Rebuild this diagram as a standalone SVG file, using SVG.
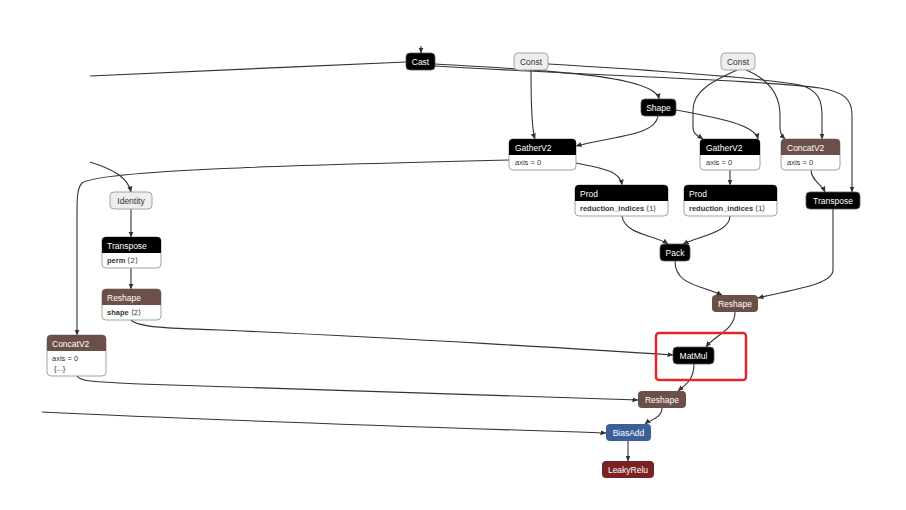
<svg xmlns="http://www.w3.org/2000/svg" width="906" height="510" viewBox="0 0 906 510">
<defs>
<marker id="ah" markerWidth="6" markerHeight="6" refX="5.5" refY="3" orient="auto" markerUnits="userSpaceOnUse">
<path d="M0,0.5 L6,3 L0,5.5 z" fill="#333"/>
</marker>
<style>
.e{fill:none;stroke:#333;stroke-width:1.1;marker-end:url(#ah)}
.n{fill:none;stroke:#333;stroke-width:1.1}
.blk{fill:#000;stroke:#555;stroke-width:0.8}
.cst{fill:#eee;stroke:#999;stroke-width:0.9}
.brn{fill:#6b4f48}
.box{fill:#fff;stroke:#999;stroke-width:0.9}
text{font-family:"Liberation Sans",Arial,sans-serif;font-size:8.5px}
.w{fill:#fff}
.d{fill:#333}
.c{text-anchor:middle}
.a{font-size:7.5px;fill:#333}
.b{font-weight:bold}
</style>
</defs>
<rect width="906" height="510" fill="#fff"/>
<g id="edges">
<path class="n" d="M90,76 C200,72 300,66 406,62"/>
<path class="e" d="M421,46 L421,53"/>
<path class="e" d="M435,64 C540,70 655,75 659,99"/>
<path class="e" d="M435,66 C600,76 760,80 820,88 C845,92 852,100 852,115 L852,192"/>
<path class="e" d="M548,64 C650,70 760,78 800,85 C818,90 822,100 822,115 L822,139"/>
<path class="e" d="M531,70 C531,110 532,130 535,139"/>
<path class="e" d="M737,70 C715,80 693,90 693,110 L693,128 C693,135 700,137 703,139"/>
<path class="e" d="M746,70 C770,80 780,95 780,115 L780,128 C780,134 783,137 785,139"/>
<path class="e" d="M658,116 C655,135 620,135 576,146"/>
<path class="e" d="M676,110 C720,118 755,125 758,139"/>
<path class="e" d="M576,163 C600,168 620,170 622,185"/>
<path class="e" d="M509,160 C300,165 100,170 82,183 C77,188 77,200 77,215 L77,335"/>
<path class="e" d="M730,170 L730,185"/>
<path class="e" d="M622,216 C625,235 655,235 668,244"/>
<path class="e" d="M730,216 C730,232 700,236 683,244"/>
<path class="e" d="M675,261 C675,285 700,285 722,295"/>
<path class="e" d="M811,170 C811,180 822,185 825,192"/>
<path class="e" d="M833,209 L833,270 C833,285 790,290 758,298"/>
<path class="e" d="M735,312 C735,330 715,335 706,347"/>
<path class="e" d="M131,320 C138,327 160,328 220,330 C400,338 600,350 673,355"/>
<path class="e" d="M694,364 C694,380 685,385 678,391"/>
<path class="e" d="M77,376 C80,382 100,382 140,384 C350,392 550,398 638,400"/>
<path class="e" d="M662,408 C662,418 650,420 645,424"/>
<path class="e" d="M42,412 C200,420 450,428 606,433"/>
<path class="e" d="M628,441 L628,461"/>
<path class="e" d="M90,162 C115,170 128,178 131,192"/>
<path class="e" d="M131,209 L131,237"/>
<path class="e" d="M131,268 L131,289"/>
</g>
<g id="cast"><rect class="blk" x="406" y="53" width="29" height="17" rx="4"/><text class="w c" x="420.5" y="65">Cast</text></g>
<g id="const1"><rect class="cst" x="514" y="53" width="34" height="17" rx="4"/><text class="d c" x="531" y="65">Const</text></g>
<g id="const2"><rect class="cst" x="721" y="53" width="34" height="17" rx="4"/><text class="d c" x="738" y="65">Const</text></g>
<g id="shape"><rect class="blk" x="641" y="99" width="35" height="17" rx="4"/><text class="w c" x="658.5" y="111">Shape</text></g>
<g id="gather1"><rect class="box" x="509" y="139" width="67" height="31" rx="4"/><path d="M509,155 V143 Q509,139 513,139 H572 Q576,139 576,143 V155 Z" fill="#000"/><text class="w" x="515" y="151">GatherV2</text><text class="a" x="515" y="165">axis = 0</text></g>
<g id="gather2"><rect class="box" x="700" y="139" width="60" height="31" rx="4"/><path d="M700,155 V143 Q700,139 704,139 H756 Q760,139 760,143 V155 Z" fill="#000"/><text class="w" x="706" y="151">GatherV2</text><text class="a" x="706" y="165">axis = 0</text></g>
<g id="concat_r"><rect class="box" x="781" y="139" width="59" height="31" rx="4"/><path d="M781,155 V143 Q781,139 785,139 H836 Q840,139 840,143 V155 Z" class="brn"/><text class="w" x="787" y="151">ConcatV2</text><text class="a" x="787" y="165">axis = 0</text></g>
<g id="prod1"><rect class="box" x="575" y="185" width="93" height="31" rx="4"/><path d="M575,201 V189 Q575,185 579,185 H664 Q668,185 668,189 V201 Z" fill="#000"/><text class="w" x="580" y="197">Prod</text><text class="a" x="580" y="211"><tspan class="b">reduction_indices</tspan> ⟨1⟩</text></g>
<g id="prod2"><rect class="box" x="684" y="185" width="93" height="31" rx="4"/><path d="M684,201 V189 Q684,185 688,185 H773 Q777,185 777,189 V201 Z" fill="#000"/><text class="w" x="689" y="197">Prod</text><text class="a" x="689" y="211"><tspan class="b">reduction_indices</tspan> ⟨1⟩</text></g>
<g id="transpose_r"><rect class="blk" x="806" y="192" width="54" height="17" rx="4"/><text class="w c" x="833" y="204">Transpose</text></g>
<g id="pack"><rect class="blk" x="660" y="244" width="30" height="17" rx="4"/><text class="w c" x="675" y="256">Pack</text></g>
<g id="reshape_r"><rect class="brn" x="712" y="295" width="46" height="17" rx="4"/><text class="w c" x="735" y="307">Reshape</text></g>
<g id="matmul"><rect class="blk" x="673" y="347" width="41" height="17" rx="4"/><text class="w c" x="693.5" y="359">MatMul</text></g>
<rect x="656" y="333" width="90" height="47" rx="3" fill="none" stroke="#e0282c" stroke-width="2.5"/>
<g id="reshape_b"><rect class="brn" x="638" y="391" width="48" height="17" rx="4"/><text class="w c" x="662" y="403">Reshape</text></g>
<g id="biasadd"><rect x="606" y="424" width="45" height="17" rx="4" fill="#3d5f98"/><text class="w c" x="628.5" y="436">BiasAdd</text></g>
<g id="leakyrelu"><rect x="602" y="461" width="52" height="17" rx="4" fill="#7a2222"/><text class="w c" x="628" y="473">LeakyRelu</text></g>
<g id="identity"><rect class="cst" x="110" y="192" width="42" height="17" rx="4"/><text class="d c" x="131" y="204">Identity</text></g>
<g id="transpose_l"><rect class="box" x="102" y="237" width="59" height="31" rx="4"/><path d="M102,253 V241 Q102,237 106,237 H157 Q161,237 161,241 V253 Z" fill="#000"/><text class="w" x="107" y="249">Transpose</text><text class="a" x="107" y="263"><tspan class="b">perm</tspan> ⟨2⟩</text></g>
<g id="reshape_l"><rect class="box" x="102" y="289" width="59" height="31" rx="4"/><path d="M102,305 V293 Q102,289 106,289 H157 Q161,289 161,293 V305 Z" class="brn"/><text class="w" x="107" y="301">Reshape</text><text class="a" x="107" y="315"><tspan class="b">shape</tspan> ⟨2⟩</text></g>
<g id="concat_l"><rect class="box" x="47" y="335" width="59" height="41" rx="4"/><path d="M47,351 V339 Q47,335 51,335 H102 Q106,335 106,339 V351 Z" class="brn"/><text class="w" x="52" y="347">ConcatV2</text><text class="a" x="52" y="361">axis = 0</text><text class="a" x="54" y="371">{...}</text></g>
</svg>
